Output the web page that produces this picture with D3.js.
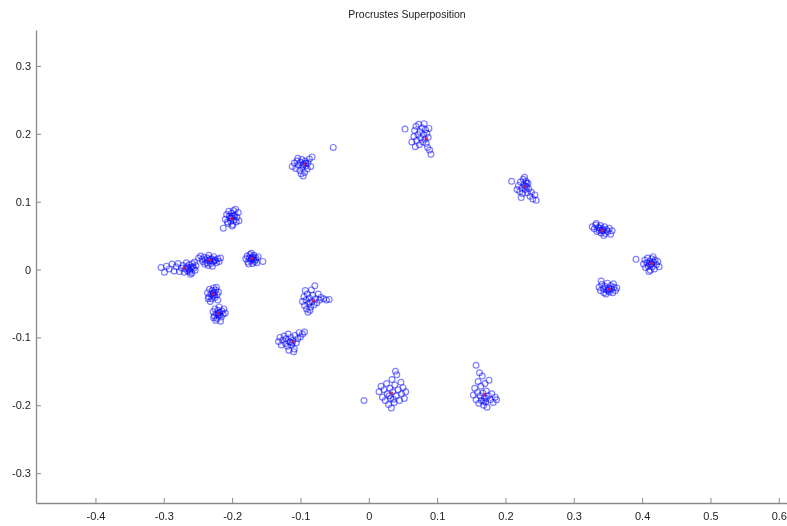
<!DOCTYPE html>
<html>
<head>
<meta charset="utf-8">
<script src="https://cdn.jsdelivr.net/npm/d3@7"></script>
<style>
  body { margin: 0; background: #fff; }
  svg text { font-family: "Liberation Sans", Arial, sans-serif; }
</style>
</head>
<body>
<svg id="chart" width="787" height="526"></svg>
<script>
// Procrustes superposition: one array of aligned specimen points per landmark, plus the mean shape

var lm1 = [[-0.304,0.003],[-0.299,-0.004],[-0.296,0.005],[-0.292,0.001],[-0.288,0.008],[-0.285,-0.002],[-0.282,0.004],[-0.279,0.009],[-0.277,-0.003],[-0.274,0.002],[-0.272,0.006],[-0.270,-0.004],[-0.268,0.001],[-0.266,0.004],[-0.265,-0.002],[-0.263,0.007],[-0.262,0.000],[-0.260,0.003],[-0.259,-0.005],[-0.258,0.009],[-0.256,0.002],[-0.255,0.011],[-0.254,-0.001],[-0.253,0.006],[-0.267,0.010],[-0.261,-0.007],[-0.264,0.002],[-0.258,0.004],[-0.262,-0.003]];
var lm2 = [[-0.249,0.017],[-0.246,0.020],[-0.243,0.012],[-0.241,0.018],[-0.239,0.014],[-0.237,0.010],[-0.236,0.017],[-0.234,0.021],[-0.233,0.013],[-0.231,0.009],[-0.230,0.016],[-0.228,0.012],[-0.227,0.019],[-0.225,0.014],[-0.223,0.010],[-0.221,0.016],[-0.219,0.012],[-0.217,0.017],[-0.235,0.006],[-0.240,0.008],[-0.229,0.005],[-0.244,0.015],[-0.232,0.015],[-0.226,0.013]];
var lm3 = [[-0.180,0.016],[-0.178,0.020],[-0.177,0.011],[-0.175,0.017],[-0.174,0.022],[-0.173,0.013],[-0.171,0.018],[-0.170,0.009],[-0.169,0.015],[-0.168,0.021],[-0.167,0.012],[-0.165,0.017],[-0.164,0.010],[-0.162,0.019],[-0.176,0.008],[-0.172,0.024],[-0.155,0.012],[-0.166,0.014],[-0.172,0.016],[-0.169,0.019]];
var lm4 = [[-0.210,0.074],[-0.208,0.081],[-0.206,0.068],[-0.205,0.086],[-0.203,0.076],[-0.202,0.071],[-0.201,0.083],[-0.200,0.078],[-0.199,0.066],[-0.198,0.087],[-0.197,0.073],[-0.196,0.080],[-0.194,0.070],[-0.193,0.077],[-0.191,0.084],[-0.190,0.072],[-0.204,0.079],[-0.195,0.089],[-0.207,0.070],[-0.213,0.061],[-0.200,0.064],[-0.201,0.076],[-0.198,0.079]];
var lm5 = [[-0.112,0.152],[-0.109,0.157],[-0.107,0.149],[-0.105,0.160],[-0.103,0.154],[-0.101,0.146],[-0.100,0.158],[-0.098,0.162],[-0.097,0.151],[-0.095,0.156],[-0.094,0.143],[-0.093,0.160],[-0.092,0.153],[-0.090,0.148],[-0.089,0.157],[-0.087,0.163],[-0.085,0.152],[-0.083,0.166],[-0.096,0.138],[-0.099,0.141],[-0.104,0.164],[-0.052,0.180],[-0.096,0.154],[-0.092,0.157]];
var lm6 = [[0.063,0.188],[0.066,0.196],[0.067,0.205],[0.069,0.211],[0.070,0.190],[0.072,0.199],[0.073,0.214],[0.074,0.184],[0.075,0.203],[0.076,0.194],[0.078,0.209],[0.079,0.188],[0.080,0.199],[0.081,0.215],[0.082,0.192],[0.083,0.206],[0.084,0.186],[0.085,0.201],[0.087,0.195],[0.088,0.208],[0.086,0.180],[0.089,0.176],[0.091,0.170],[0.068,0.181],[0.053,0.207]];
var lm7 = [[0.217,0.118],[0.219,0.124],[0.221,0.115],[0.222,0.129],[0.224,0.120],[0.225,0.112],[0.226,0.133],[0.227,0.125],[0.229,0.118],[0.230,0.130],[0.231,0.122],[0.232,0.113],[0.233,0.127],[0.234,0.119],[0.236,0.108],[0.238,0.114],[0.240,0.104],[0.243,0.110],[0.245,0.102],[0.223,0.106],[0.228,0.136],[0.209,0.130],[0.229,0.123],[0.231,0.127]];
var lm8 = [[0.327,0.063],[0.330,0.060],[0.332,0.066],[0.334,0.056],[0.336,0.062],[0.337,0.058],[0.339,0.065],[0.340,0.054],[0.342,0.060],[0.343,0.057],[0.345,0.063],[0.346,0.053],[0.348,0.059],[0.350,0.056],[0.352,0.061],[0.354,0.052],[0.356,0.057],[0.333,0.068],[0.344,0.050],[0.341,0.058],[0.338,0.061]];
var lm9 = [[0.402,0.008],[0.404,0.014],[0.405,0.003],[0.407,0.010],[0.408,0.017],[0.409,0.005],[0.411,0.012],[0.412,-0.001],[0.413,0.008],[0.414,0.016],[0.415,0.004],[0.417,0.011],[0.418,0.001],[0.419,0.014],[0.421,0.007],[0.423,0.012],[0.425,0.004],[0.416,0.019],[0.410,-0.003],[0.391,0.015],[0.414,0.009],[0.411,0.007]];
var lm10 = [[0.337,-0.026],[0.339,-0.031],[0.341,-0.022],[0.343,-0.028],[0.344,-0.034],[0.346,-0.025],[0.348,-0.030],[0.349,-0.020],[0.351,-0.027],[0.352,-0.033],[0.354,-0.024],[0.355,-0.029],[0.357,-0.034],[0.359,-0.026],[0.361,-0.031],[0.363,-0.027],[0.340,-0.017],[0.347,-0.036],[0.358,-0.021],[0.352,-0.029],[0.350,-0.031]];
var lm11 = [[-0.236,-0.034],[-0.234,-0.040],[-0.233,-0.029],[-0.231,-0.036],[-0.230,-0.043],[-0.229,-0.031],[-0.228,-0.038],[-0.227,-0.027],[-0.226,-0.034],[-0.225,-0.041],[-0.224,-0.030],[-0.222,-0.037],[-0.221,-0.045],[-0.220,-0.033],[-0.232,-0.047],[-0.235,-0.043],[-0.223,-0.026],[-0.228,-0.035],[-0.226,-0.038]];
var lm12 = [[-0.228,-0.062],[-0.226,-0.068],[-0.225,-0.058],[-0.223,-0.065],[-0.222,-0.072],[-0.221,-0.060],[-0.220,-0.067],[-0.219,-0.055],[-0.218,-0.063],[-0.216,-0.070],[-0.215,-0.061],[-0.213,-0.066],[-0.212,-0.058],[-0.224,-0.075],[-0.217,-0.076],[-0.210,-0.064],[-0.227,-0.071],[-0.220,-0.064],[-0.218,-0.067]];
var lm13 = [[-0.097,-0.047],[-0.095,-0.040],[-0.094,-0.053],[-0.092,-0.045],[-0.091,-0.058],[-0.090,-0.036],[-0.088,-0.050],[-0.087,-0.042],[-0.085,-0.055],[-0.084,-0.030],[-0.083,-0.047],[-0.082,-0.038],[-0.080,-0.052],[-0.079,-0.024],[-0.078,-0.043],[-0.076,-0.049],[-0.074,-0.036],[-0.072,-0.045],[-0.070,-0.041],[-0.066,-0.043],[-0.062,-0.045],[-0.058,-0.044],[-0.089,-0.063],[-0.086,-0.060],[-0.093,-0.031],[-0.086,-0.048]];
var lm14 = [[-0.132,-0.106],[-0.130,-0.100],[-0.128,-0.111],[-0.126,-0.104],[-0.124,-0.098],[-0.122,-0.109],[-0.121,-0.102],[-0.119,-0.113],[-0.118,-0.095],[-0.116,-0.106],[-0.114,-0.100],[-0.113,-0.111],[-0.111,-0.104],[-0.109,-0.117],[-0.108,-0.097],[-0.106,-0.108],[-0.104,-0.102],[-0.102,-0.093],[-0.100,-0.099],[-0.097,-0.095],[-0.094,-0.092],[-0.110,-0.121],[-0.117,-0.119],[-0.115,-0.107],[-0.112,-0.108]];
var lm15 = [[0.015,-0.180],[0.018,-0.172],[0.020,-0.188],[0.022,-0.177],[0.024,-0.193],[0.026,-0.168],[0.027,-0.183],[0.029,-0.199],[0.031,-0.175],[0.032,-0.190],[0.034,-0.162],[0.035,-0.180],[0.037,-0.196],[0.038,-0.170],[0.040,-0.186],[0.041,-0.155],[0.043,-0.177],[0.045,-0.193],[0.047,-0.166],[0.048,-0.183],[0.050,-0.174],[0.052,-0.190],[0.054,-0.180],[0.033,-0.204],[0.039,-0.150],[-0.007,-0.193],[0.030,-0.186],[0.036,-0.191]];
var lm16 = [[0.153,-0.185],[0.155,-0.175],[0.157,-0.192],[0.159,-0.181],[0.160,-0.165],[0.161,-0.197],[0.163,-0.186],[0.164,-0.172],[0.165,-0.193],[0.166,-0.157],[0.167,-0.182],[0.168,-0.200],[0.169,-0.189],[0.170,-0.168],[0.171,-0.195],[0.172,-0.179],[0.173,-0.203],[0.175,-0.186],[0.176,-0.163],[0.178,-0.192],[0.180,-0.183],[0.182,-0.196],[0.185,-0.188],[0.187,-0.192],[0.162,-0.152],[0.157,-0.141],[0.168,-0.194],[0.172,-0.190]];

// Mean (consensus) shape, drawn in red
var meanShape = [[-0.270,0.002],[-0.233,0.014],[-0.171,0.0165],[-0.2006,0.0754],[-0.094,0.155],[0.084,0.193],[0.228,0.122],[0.341,0.058],[0.414,0.009],[0.352,-0.0287],[-0.228,-0.036],[-0.220,-0.0645],[-0.081,-0.0464],[-0.111,-0.106],[0.0337,-0.182],[0.169,-0.184]];

var xTicks = [-0.4, -0.3, -0.2, -0.1, 0, 0.1, 0.2, 0.3, 0.4, 0.5, 0.6];
var yTicks = [-0.3, -0.2, -0.1, 0, 0.1, 0.2, 0.3];
var titleText = "Procrustes Superposition";

var landmarks = [lm1, lm2, lm3, lm4, lm5, lm6, lm7, lm8, lm9, lm10, lm11, lm12, lm13, lm14, lm15, lm16];
var allPoints = [].concat.apply([], landmarks);

// Figure dimensions
var svg = d3.select("#chart");
var plotLeft = 36, plotRight = 787, plotTop = 30, plotBottom = 503;

// Scales
var x = d3.scaleLinear().domain([-0.487, 0.612]).range([plotLeft, plotRight]);
var y = d3.scaleLinear().domain([-0.344, 0.353]).range([plotBottom, plotTop]);

// plain hyphen for negatives, like the original figure
var fmt = function(d) { return d === 0 ? "0" : d.toFixed(1); };

// slight blur to match the soft look of the reference
var defs = svg.append("defs");
defs.append("filter").attr("id", "soft")
    .append("feGaussianBlur").attr("stdDeviation", 0.6);
defs.append("filter").attr("id", "softText")
    .append("feGaussianBlur").attr("stdDeviation", 0.3);

// Axes (ticks point inward, MATLAB style)
var xAxis = svg.append("g")
    .attr("transform", "translate(0," + plotBottom + ")")
    .call(d3.axisBottom(x).tickValues(xTicks).tickFormat(fmt).tickSizeInner(-5).tickSizeOuter(0).tickPadding(9));
var yAxis = svg.append("g")
    .attr("transform", "translate(" + plotLeft + ",0)")
    .call(d3.axisLeft(y).tickValues(yTicks).tickFormat(fmt).tickSizeInner(-5).tickSizeOuter(0).tickPadding(5));

[xAxis, yAxis].forEach(function(a) {
    a.select(".domain").attr("stroke", "#8a8a8a").attr("stroke-width", 1.3);
    a.selectAll(".tick line").attr("stroke", "#8a8a8a");
    a.selectAll(".tick text").attr("fill", "#222").style("font-size", "11px").attr("filter", "url(#softText)");
});

// Specimen points
svg.append("g")
    .attr("filter", "url(#soft)")
    .selectAll("circle")
    .data(allPoints)
    .enter()
    .append("circle")
    .attr("cx", function(d) { return x(d[0]); })
    .attr("cy", function(d) { return y(d[1]); })
    .attr("r", 2.9)
    .attr("fill", "none")
    .attr("stroke", "#0000ff")
    .attr("stroke-opacity", 0.5)
    .attr("stroke-width", 1.2);

// Mean shape
svg.append("g")
    .attr("filter", "url(#soft)")
    .selectAll("circle")
    .data(meanShape)
    .enter()
    .append("circle")
    .attr("cx", function(d) { return x(d[0]); })
    .attr("cy", function(d) { return y(d[1]); })
    .attr("r", 1.5)
    .attr("fill", "#e0103a")
    .attr("opacity", 0.85);

// Title
svg.append("text")
    .attr("x", 407)
    .attr("y", 18)
    .attr("text-anchor", "middle")
    .attr("fill", "#222")
    .attr("filter", "url(#softText)")
    .style("font-size", "10.5px")
    .text(titleText);
</script>
</body>
</html>
